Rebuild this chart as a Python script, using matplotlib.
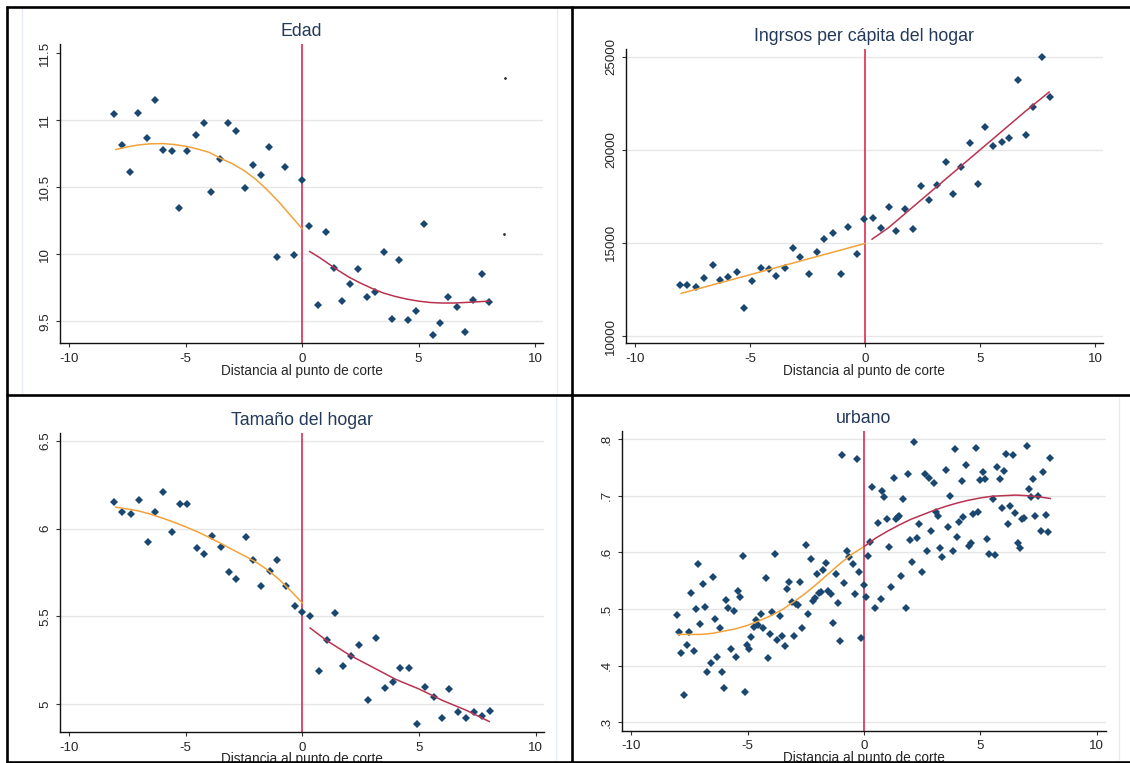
import matplotlib
matplotlib.use('Agg')
import matplotlib.pyplot as plt
from matplotlib.lines import Line2D

plt.rcParams['font.family'] = ['Liberation Sans', 'DejaVu Sans']
plt.rcParams['axes.unicode_minus'] = False

# ---------------- data ----------------
edad_x = [-8.08, -7.74, -7.37, -7.03, -6.66, -6.32, -5.98, -5.60, -5.28, -4.94, -4.55, -4.21,
          -3.89, -3.51, -3.17, -2.83, -2.46, -2.12, -1.78, -1.41, -1.07, -0.74, -0.36, -0.02,
          0.31, 0.68, 1.02, 1.36, 1.73, 2.07, 2.40, 2.79, 3.13, 3.50, 3.84, 4.18, 4.55, 4.89,
          5.22, 5.60, 5.94, 6.28, 6.66, 7.00, 7.34, 7.71, 8.03]
edad_y = [11.045, 10.815, 10.616, 11.055, 10.865, 11.147, 10.78, 10.773, 10.342, 10.766, 10.89, 10.98,
          10.466, 10.708, 10.98, 10.915, 10.49, 10.666, 10.59, 10.798, 9.98, 10.648, 9.995, 10.55,
          10.21, 9.62, 10.167, 9.895, 9.65, 9.78, 9.89, 9.68, 9.72, 10.02, 9.52, 9.96, 9.51, 9.58,
          10.225, 9.40, 9.49, 9.68, 9.61, 9.42, 9.66, 9.85, 9.64]
edad_stray_x = [8.73, 8.67]
edad_stray_y = [11.31, 10.15]
edad_fitL_x = [-8, -7.5, -7, -6.5, -6, -5.5, -5, -4.5, -4, -3.5, -3, -2.5, -2, -1.5, -1, -0.5, 0]
edad_fitL_y = [10.78, 10.80, 10.815, 10.823, 10.825, 10.818, 10.805, 10.785, 10.76, 10.715,
               10.675, 10.625, 10.56, 10.48, 10.39, 10.29, 10.19]
edad_fitR_x = [0.33, 0.75, 1, 1.5, 2, 2.5, 3, 3.5, 4, 4.5, 5, 5.5, 6, 6.5, 7, 7.5, 8]
edad_fitR_y = [10.02, 9.975, 9.945, 9.885, 9.83, 9.785, 9.745, 9.71, 9.685, 9.665, 9.65,
               9.64, 9.636, 9.636, 9.64, 9.645, 9.65]

ing_x = [-8.06, -7.73, -7.37, -7.02, -6.63, -6.30, -5.96, -5.58, -5.27, -4.92, -4.53, -4.19,
         -3.86, -3.50, -3.15, -2.82, -2.45, -2.10, -1.79, -1.41, -1.05, -0.74, -0.34, -0.03,
         0.33, 0.71, 1.04, 1.36, 1.74, 2.07, 2.41, 2.79, 3.12, 3.50, 3.82, 4.17, 4.55, 4.89,
         5.22, 5.58, 5.93, 6.27, 6.65, 6.98, 7.30, 7.68, 8.03]
ing_y = [12750, 12750, 12643, 13107, 13804, 12982, 13179, 13411, 11518, 12929, 13643, 13589,
         13232, 13643, 14732, 14232, 13339, 14518, 15214, 15518, 13339, 15857, 14393, 16268,
         16321, 15786, 16911, 15625, 16839, 15732, 18036, 17321, 18089, 19321, 17607, 19089, 20375, 18143,
         21250, 20196, 20429, 20625, 23732, 20786, 22304, 24964, 22839]
ing_fitL_x = [-8, -6, -4, -2, 0]
ing_fitL_y = [12290, 12960, 13630, 14300, 14970]
ing_fitR_x = [0.3, 1, 2, 3, 4, 5, 6, 7, 8]
ing_fitR_y = [15200, 15800, 16850, 17900, 18950, 20000, 21050, 22100, 23100]

tam_x = [-8.06, -7.72, -7.35, -7.01, -6.64, -6.30, -5.96, -5.58, -5.25, -4.93, -4.54, -4.20,
         -3.86, -3.49, -3.15, -2.83, -2.44, -2.10, -1.76, -1.39, -1.07, -0.71, -0.34, 0.0,
         0.32, 0.70, 1.04, 1.39, 1.75, 2.09, 2.43, 2.80, 3.15, 3.52, 3.86, 4.19, 4.57, 4.91,
         5.25, 5.63, 5.97, 6.29, 6.68, 7.02, 7.34, 7.71, 8.04]
tam_y = [6.151, 6.092, 6.086, 6.162, 5.921, 6.092, 6.206, 5.978, 6.143, 6.143, 5.891, 5.853,
         5.959, 5.896, 5.752, 5.712, 5.953, 5.820, 5.674, 5.758, 5.820, 5.674, 5.560, 5.522,
         5.503, 5.186, 5.363, 5.517, 5.218, 5.275, 5.338, 5.021, 5.376, 5.091, 5.124, 5.205, 5.205, 4.888,
         5.099, 5.042, 4.920, 5.086, 4.953, 4.920, 4.953, 4.934, 4.958]
tam_fitL_x = [-8, -7.5, -7, -6.5, -6, -5.5, -5, -4.5, -4, -3.5, -3, -2.5, -2, -1.5, -1, -0.5, 0]
tam_fitL_y = [6.122, 6.112, 6.10, 6.082, 6.06, 6.036, 6.01, 5.982, 5.95, 5.916, 5.88, 5.846,
              5.81, 5.765, 5.71, 5.645, 5.575]
tam_fitR_x = [0.33, 1, 2, 3, 4, 5, 6, 7, 8]
tam_fitR_y = [5.433, 5.365, 5.28, 5.21, 5.14, 5.085, 5.02, 4.965, 4.90]

urb_x = [-8.03, -7.94, -7.84, -7.73, -7.59, -7.50, -7.41, -7.30, -7.21, -7.12, -7.02, -6.93,
         -6.82, -6.73, -6.59, -6.50, -6.39, -6.30, -6.20, -6.11, -6.02, -5.91, -5.82, -5.72,
         -5.60, -5.49, -5.40, -5.31, -5.21, -5.12, -5.03, -4.93, -4.84, -4.73, -4.64, -4.55,
         -4.44, -4.33, -4.22, -4.13, -4.04, -3.94, -3.84, -3.73, -3.59, -3.50, -3.40, -3.31,
         -3.22, -3.11, -3.02, -2.92, -2.83, -2.74, -2.65, -2.51, -2.40, -2.29, -2.21, -2.12,
         -2.03, -1.93, -1.83, -1.75, -1.64, -1.55, -1.41, -1.31, -1.22, -1.11, -1.01, -0.93,
         -0.84, -0.73, -0.63, -0.49, -0.40, -0.29, -0.22, -0.11, -0.02,
         0.08, 0.17, 0.26, 0.36, 0.49, 0.60, 0.71, 0.79, 0.88, 0.97, 1.07, 1.18,
         1.27, 1.36, 1.44, 1.52, 1.61, 1.69, 1.79, 1.89, 1.98, 2.07, 2.16, 2.27,
         2.37, 2.51, 2.60, 2.69, 2.80, 2.89, 2.99, 3.08, 3.17, 3.26, 3.37, 3.51,
         3.60, 3.70, 3.81, 3.90, 3.99, 4.08, 4.19, 4.27, 4.38, 4.49, 4.58, 4.70,
         4.81, 4.90, 5.00, 5.10, 5.18, 5.27, 5.38, 5.52, 5.61, 5.71, 5.82, 5.91,
         6.00, 6.09, 6.19, 6.28, 6.39, 6.47, 6.60, 6.70, 6.79, 6.88, 6.99, 7.08,
         7.16, 7.27, 7.36, 7.46, 7.61, 7.70, 7.80, 7.90, 8.00]
urb_y = [0.489, 0.460, 0.422, 0.348, 0.436, 0.460, 0.529, 0.426, 0.499, 0.579, 0.474, 0.544,
         0.503, 0.388, 0.405, 0.556, 0.483, 0.416, 0.466, 0.389, 0.360, 0.516, 0.501, 0.429,
         0.497, 0.416, 0.531, 0.521, 0.594, 0.354, 0.436, 0.429, 0.450, 0.468, 0.481, 0.472,
         0.491, 0.466, 0.554, 0.413, 0.456, 0.495, 0.597, 0.446, 0.487, 0.452, 0.434, 0.535,
         0.548, 0.513, 0.452, 0.509, 0.507, 0.548, 0.466, 0.613, 0.491, 0.588, 0.514, 0.519,
         0.562, 0.529, 0.530, 0.568, 0.581, 0.531, 0.526, 0.475, 0.562, 0.511, 0.444, 0.772,
         0.546, 0.603, 0.592, 0.580, 0.526, 0.764, 0.566, 0.448, 0.542,
         0.521, 0.594, 0.619, 0.715, 0.501, 0.652, 0.517, 0.708, 0.697, 0.658, 0.609, 0.539,
         0.732, 0.658, 0.662, 0.664, 0.559, 0.694, 0.501, 0.738, 0.621, 0.583, 0.794, 0.625,
         0.650, 0.566, 0.738, 0.603, 0.732, 0.638, 0.723, 0.672, 0.664, 0.607, 0.591, 0.746,
         0.645, 0.699, 0.603, 0.782, 0.627, 0.654, 0.726, 0.662, 0.754, 0.611, 0.617, 0.668,
         0.785, 0.672, 0.728, 0.742, 0.729, 0.623, 0.597, 0.694, 0.595, 0.750, 0.729, 0.679,
         0.744, 0.774, 0.650, 0.682, 0.772, 0.670, 0.617, 0.607, 0.658, 0.660, 0.788, 0.711,
         0.697, 0.729, 0.664, 0.699, 0.638, 0.741, 0.666, 0.635, 0.766]
urb_fitL_x = [-8, -7.5, -7, -6.5, -6, -5.5, -5, -4.5, -4, -3.5, -3, -2.5, -2, -1.5, -1, -0.5, 0]
urb_fitL_y = [0.455, 0.455, 0.455, 0.457, 0.461, 0.465, 0.471, 0.479, 0.488, 0.499, 0.513,
              0.528, 0.545, 0.563, 0.581, 0.597, 0.61]
urb_fitR_x = [0, 0.5, 1, 1.5, 2, 2.5, 3, 3.5, 4, 4.5, 5, 5.5, 6, 6.5, 7, 7.5, 8]
urb_fitR_y = [0.61, 0.625, 0.637, 0.648, 0.658, 0.666, 0.674, 0.681, 0.687, 0.692, 0.696,
              0.699, 0.700, 0.701, 0.700, 0.698, 0.695]

x_ticks = [-10, -5, 0, 5, 10]
x_tick_labels = ['-10', '-5', '0', '5', '10']
x_label = 'Distancia al punto de corte'

# ---------------- styling ----------------
W, H = 1130, 763
fig = plt.figure(figsize=(W / 100, H / 100), dpi=100)
fig.patch.set_facecolor('white')

MARK = '#1a476f'
ORANGE = '#f2a23a'
RED = '#b83350'
VLINE = '#dc2b52'
TITLE_C = '#23395b'
TXT = '#262626'
GRID = '#e6e6e6'

panels = [
    dict(rect=(60, 44, 543, 343), xlim=(-10.39, 10.34), ylim=(9.338, 11.567),
         yticks=[9.5, 10, 10.5, 11, 11.5], ylabels=['9.5', '10', '10.5', '11', '11.5'],
         grid=[9.5, 10, 10.5, 11], title='Edad',
         x=edad_x, y=edad_y, fl=(edad_fitL_x, edad_fitL_y), fr=(edad_fitR_x, edad_fitR_y)),
    dict(rect=(626, 49, 1102.7, 343.3), xlim=(-10.40, 10.33), ylim=(9608, 25413),
         yticks=[10000, 15000, 20000, 25000], ylabels=['10000', '15000', '20000', '25000'],
         grid=[10000, 15000, 20000, 25000], title='Ingrsos per cápita del hogar',
         x=ing_x, y=ing_y, fl=(ing_fitL_x, ing_fitL_y), fr=(ing_fitR_x, ing_fitR_y)),
    dict(rect=(60, 432.7, 544, 732), xlim=(-10.39, 10.35), ylim=(4.840, 6.547),
         yticks=[5, 5.5, 6, 6.5], ylabels=['5', '5.5', '6', '6.5'],
         grid=[5, 5.5, 6, 6.5], title='Tamaño del hogar',
         x=tam_x, y=tam_y, fl=(tam_fitL_x, tam_fitL_y), fr=(tam_fitR_x, tam_fitR_y)),
    dict(rect=(622, 430.7, 1105.5, 730.7), xlim=(-10.39, 10.37), ylim=(0.285, 0.8147),
         yticks=[0.3, 0.4, 0.5, 0.6, 0.7, 0.8], ylabels=['.3', '.4', '.5', '.6', '.7', '.8'],
         grid=[0.3, 0.4, 0.5, 0.6, 0.7, 0.8], title='urbano',
         x=urb_x, y=urb_y, fl=(urb_fitL_x, urb_fitL_y), fr=(urb_fitR_x, urb_fitR_y)),
]

axes = []
for p in panels:
    l, t, r, b = p['rect']
    ax = fig.add_axes([l / W, 1 - b / H, (r - l) / W, (b - t) / H])
    axes.append(ax)
    ax.set_facecolor('white')
    ax.set_xlim(*p['xlim'])
    ax.set_ylim(*p['ylim'])
    for g in p['grid']:
        ax.axhline(g, color=GRID, lw=1.0, zorder=0)
    ax.axvline(0, color=VLINE, lw=1.2, zorder=1)
    ax.plot(p['x'], p['y'], linestyle='none', marker='D', ms=3.6, mew=0,
            color=MARK, zorder=3)
    ax.plot(*p['fl'], color=ORANGE, lw=1.1, zorder=4)
    ax.plot(*p['fr'], color=RED, lw=1.1, zorder=4)
    for s in ['top', 'right']:
        ax.spines[s].set_visible(False)
    for s in ['left', 'bottom']:
        ax.spines[s].set_color('#111111')
        ax.spines[s].set_linewidth(1.0)
    ax.set_xticks(x_ticks)
    ax.set_xticklabels(x_tick_labels)
    ax.set_yticks(p['yticks'])
    ax.set_yticklabels(p['ylabels'], rotation=90, va='center')
    ax.tick_params(axis='both', direction='out', length=3, width=0.8,
                   color='#333333', labelsize=9.6, labelcolor=TXT)
    ax.tick_params(axis='x', pad=4)
    ax.tick_params(axis='y', pad=3.5)
    ax.set_title(p['title'], fontsize=12.8, color=TITLE_C, pad=5.8)
    ax.set_xlabel(x_label, fontsize=9.8, color=TXT, va='top')
    ax.xaxis.set_label_coords(0.5, -20.5 / (b - t))

axes[0].plot(edad_stray_x, edad_stray_y, linestyle='none', marker='o', ms=1.0,
             color='#333333', clip_on=False)

# faint panel background edges
def fline(x0, y0, x1, y1, color, lw, z):
    fig.add_artist(Line2D([x0 / W, x1 / W], [1 - y0 / H, 1 - y1 / H],
                          transform=fig.transFigure, color=color, lw=lw, zorder=z,
                          solid_capstyle='butt'))

for (x0, y0, x1, y1) in [(21.5, 8, 21.5, 393), (557, 8, 557, 393),
                         (556, 397, 556, 760), (1119, 397, 1119, 760)]:
    fline(x0, y0, x1, y1, '#e6ebf2', 1.0, 1)

# black frame
for (x0, y0, x1, y1) in [(6, 7, 1130, 7), (7, 6, 7, 763), (572, 6, 572, 763),
                         (6, 395, 1130, 395), (6, 762, 1130, 762)]:
    fline(x0, y0, x1, y1, 'black', 1.9, 10)

fig.savefig('out.png', dpi=100)
